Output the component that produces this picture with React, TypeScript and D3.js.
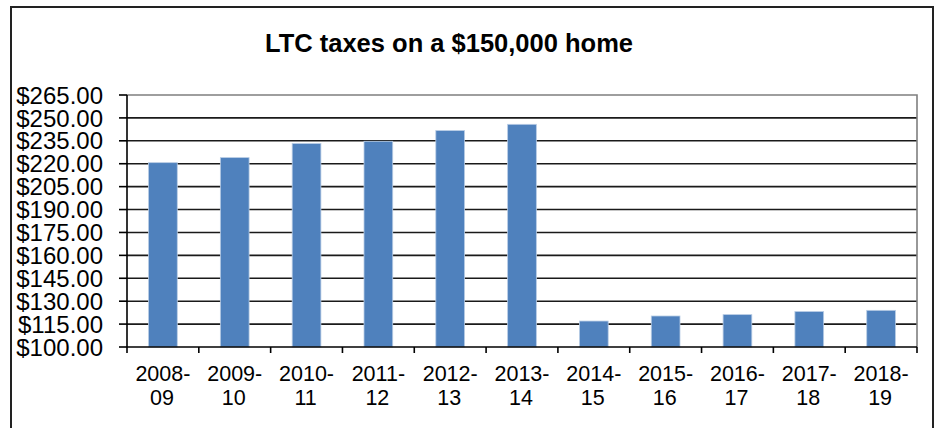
import React from "react";
import * as d3 from "d3";

const categories = ["2008-09", "2009-10", "2010-11", "2011-12", "2012-13", "2013-14", "2014-15", "2015-16", "2016-17", "2017-18", "2018-19"];
const taxes = [220.7, 224.0, 233.2, 234.7, 241.7, 245.8, 117.0, 120.3, 121.2, 123.2, 124.0];
const yTicks = [100, 115, 130, 145, 160, 175, 190, 205, 220, 235, 250, 265];
const title = "LTC taxes on a $150,000 home";

const W = 939;
const H = 428;
const M = { left: 127, right: 917, top: 95, bottom: 347 };

export default function App() {
  const x = d3.scaleBand<string>().domain(categories).range([M.left, M.right]).paddingInner(0.6).paddingOuter(0.3);
  const xb = d3.scaleBand<string>().domain(categories).range([M.left, M.right]);
  const y = d3.scaleLinear().domain([100, 265]).range([M.bottom, M.top]);
  const fmt = (v: number) => "$" + d3.format(".2f")(v);
  const font = "'Liberation Sans', Arial, sans-serif";

  return (
    <svg width={W} height={H} style={{ position: "absolute", left: 0, top: 0, background: "#fff" }} fontFamily={font}>
      <rect x={0} y={0} width={W} height={H} fill="#fff" />
      {/* outer frame */}
      <path d={`M11,${H + 5} V7 H933 V${H + 5}`} fill="none" stroke="#222" strokeWidth={2} />
      <text x={449} y={51.5} textAnchor="middle" fontSize={25.5} fontWeight="bold" fill="#000">{title}</text>

      {/* gridlines */}
      {yTicks.filter((t) => t !== 100 && t !== 265).map((t) => (
        <line key={t} x1={M.left} x2={M.right} y1={y(t)} y2={y(t)} stroke="#1a1a1a" strokeWidth={1.6} />
      ))}
      {/* plot border top/right */}
      <path d={`M${M.left},${y(265)} H${M.right} V${M.bottom}`} fill="none" stroke="#7f7f7f" strokeWidth={1.6} />

      {/* bars */}
      {categories.map((c, i) => (
        <rect key={c} x={x(c)} y={y(taxes[i])} width={x.bandwidth()} height={M.bottom - y(taxes[i])}
          fill="#4F81BD" stroke="#b9cde5" strokeWidth={0.8} />
      ))}

      {/* y axis */}
      <line x1={M.left} x2={M.left} y1={M.top} y2={M.bottom} stroke="#000" strokeWidth={1.6} />
      {yTicks.map((t) => (
        <g key={t}>
          <line x1={119} x2={M.left} y1={y(t)} y2={y(t)} stroke="#000" strokeWidth={1.6} />
          <text x={103} y={y(t) + 8.6} textAnchor="end" fontSize={24} fill="#000">{fmt(t)}</text>
        </g>
      ))}

      {/* x axis */}
      <line x1={M.left} x2={M.right} y1={M.bottom} y2={M.bottom} stroke="#000" strokeWidth={1.6} />
      {categories.map((c) => (
        <line key={"t" + c} x1={xb(c)} x2={xb(c)} y1={M.bottom} y2={M.bottom + 6} stroke="#000" strokeWidth={1.6} />
      ))}
      <line x1={M.right} x2={M.right} y1={M.bottom} y2={M.bottom + 6} stroke="#000" strokeWidth={1.6} />
      {categories.map((c) => {
        const [a, b] = c.split("-");
        const cx = (xb(c) as number) + xb.bandwidth() / 2;
        return (
          <text key={"l" + c} x={cx} textAnchor="middle" fontSize={21.5} fill="#000">
            <tspan x={cx} y={381}>{a + "-"}</tspan>
            <tspan x={cx - 1} y={405}>{b}</tspan>
          </text>
        );
      })}
    </svg>
  );
}
